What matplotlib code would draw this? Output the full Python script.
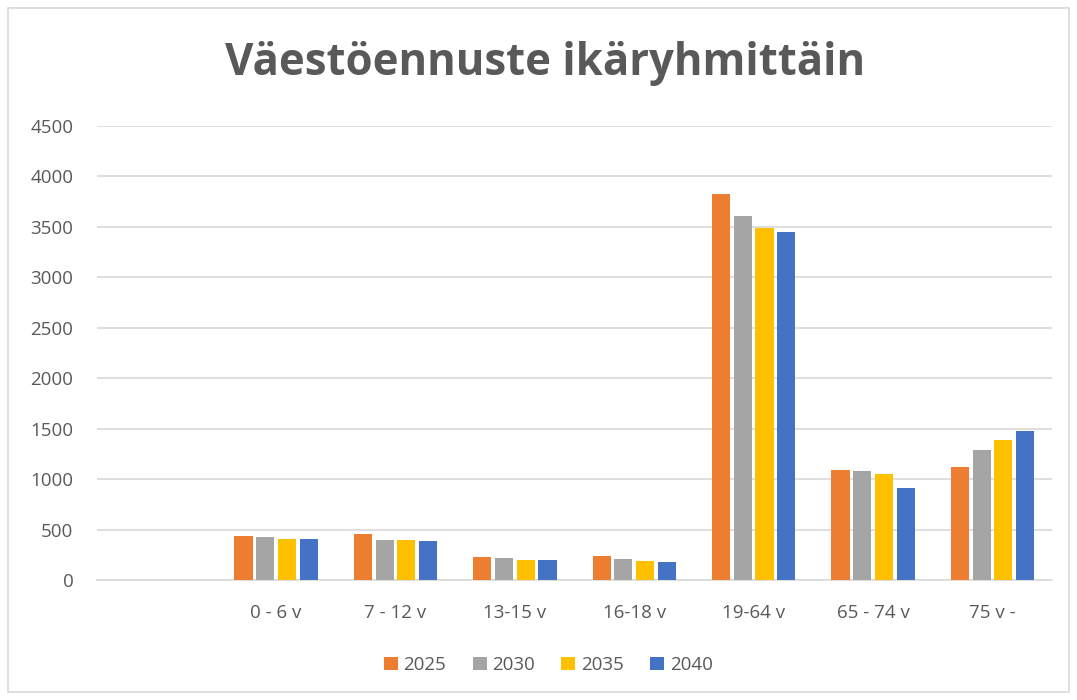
import numpy as np
import matplotlib.pyplot as plt
from matplotlib.patches import Rectangle

categories = ["", "0 - 6 v", "7 - 12 v", "13-15 v", "16-18 v", "19-64 v", "65 - 74 v", "75 v -"]
years = ["2025", "2030", "2035", "2040"]
colors = ["#ed7d31", "#a5a5a5", "#ffc000", "#4472c4"]

v2025 = [0, 433, 453, 231, 241, 3830, 1091, 1121]
v2030 = [0, 424, 400, 222, 208, 3605, 1084, 1290]
v2035 = [0, 407, 397, 194, 188, 3490, 1052, 1386]
v2040 = [0, 404, 384, 194, 182, 3450, 913, 1478]
series = [v2025, v2030, v2035, v2040]

yticks = np.arange(0, 4501, 500)

text_col = "#595959"
grid_col = "#d9d9d9"

fig = plt.figure(figsize=(10.77, 7.0), dpi=100)
ax = fig.add_axes([0.090, 0.1714, 0.887, 0.6486])

x = np.arange(len(categories))
pitch = 0.182
width = 0.152
for i, (vals, yr, c) in enumerate(zip(series, years, colors)):
    offs = (i - 1.5) * pitch
    # skip the empty first slot
    ax.bar(x[1:] + offs, vals[1:], width, color=c, label=yr, zorder=3)

ax.set_xlim(-0.5, len(categories) - 0.5)
ax.set_ylim(0, 4500)
ax.set_yticks(yticks)
ax.set_yticklabels([str(t) for t in yticks])
ax.set_xticks(x)
ax.set_xticklabels(categories)
ax.grid(axis="y", color=grid_col, linewidth=1.2, zorder=0)
for s in ["top", "right", "left"]:
    ax.spines[s].set_visible(False)
ax.spines["bottom"].set_color(grid_col)
ax.spines["bottom"].set_linewidth(1.2)
ax.tick_params(axis="both", length=0, labelsize=13.5, labelcolor=text_col,
               labelfontfamily="Open Sans")
ax.tick_params(axis="y", pad=17)
ax.tick_params(axis="x", pad=17)

fig.text(0.506, 0.91, "Väestöennuste ikäryhmittäin", ha="center", va="center",
         fontsize=31.5, fontweight="bold", color=text_col, family="Open Sans")

leg = fig.legend(loc="center", bbox_to_anchor=(0.509, 0.05), ncol=4, frameon=False,
                 handlelength=0.75, handleheight=0.75, handletextpad=0.3, columnspacing=1.4,
                 prop={"family": "Open Sans", "size": 13.5})
for t in leg.get_texts():
    t.set_color(text_col)

fig.patches.append(Rectangle((0.0075, 0.011), 0.985, 0.978, transform=fig.transFigure,
                             fill=False, edgecolor=grid_col, linewidth=1.2))

fig.savefig("out.png", dpi=100)
